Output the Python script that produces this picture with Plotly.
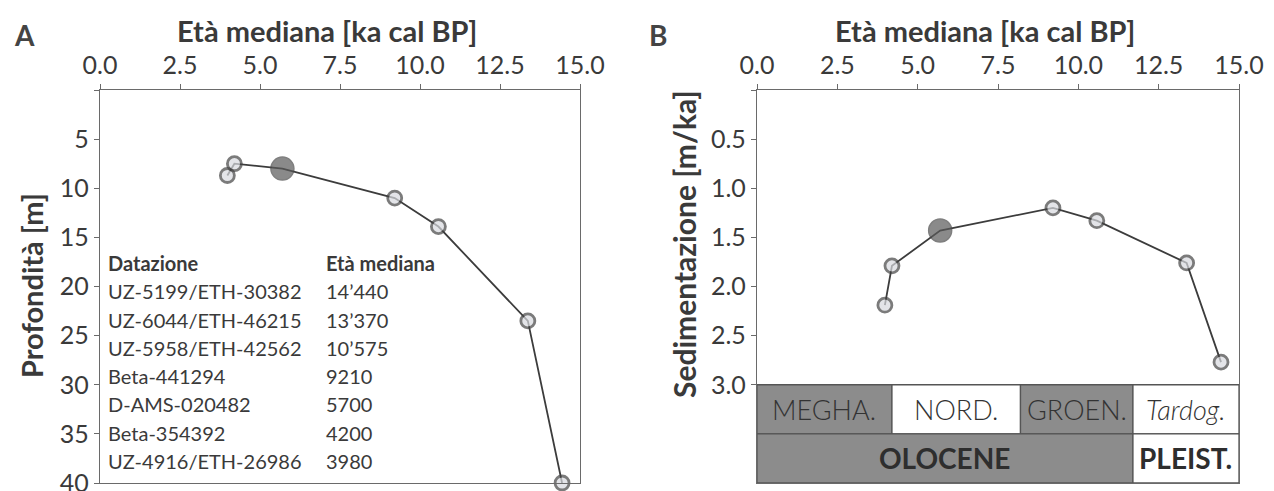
import plotly.graph_objects as go

# ---------------- data ----------------
ages_ka = [3.98, 4.20, 5.70, 9.21, 10.575, 13.37, 14.44]
depth_m = [8.7, 7.5, 8.0, 11.0, 13.9, 23.5, 40.0]
sed_rate = [2.19, 1.79, 1.43, 1.20, 1.33, 1.76, 2.77]
highlight = [False, False, True, False, False, False, False]

dating_ids = ["UZ-5199/ETH-30382", "UZ-6044/ETH-46215", "UZ-5958/ETH-42562",
              "Beta-441294", "D-AMS-020482", "Beta-354392", "UZ-4916/ETH-26986"]
dating_ages = ["14’440", "13’370", "10’575", "9210", "5700", "4200", "3980"]

x_ticks = [0.0, 2.5, 5.0, 7.5, 10.0, 12.5, 15.0]
depth_ticks = [0, 5, 10, 15, 20, 25, 30, 35, 40]
rate_ticks = [0.0, 0.5, 1.0, 1.5, 2.0, 2.5, 3.0]

periods = ["MEGHA.", "NORD.", "GROEN.", "Tardog."]
period_bounds = [0.0, 4.2, 8.2, 11.7, 15.0]
period_gray = [True, False, True, False]
epochs = ["OLOCENE", "PLEIST."]
epoch_bounds = [0.0, 11.7, 15.0]
epoch_gray = [True, False]

# ---------------- style ----------------
FONT = "Lato"
TXT = "#3a3a3a"
AX = "#6a6a6a"
LINE = "#3c3c3c"
LIGHT = "#d8dadf"
DARK = "#5a5a5a"
BAND = "#8c8c8c"
W, H = 1274, 491
OFF = 8  # default page margin of the html body


def px_x(p):
    return (p - OFF) / W


def px_y(p):
    return 1 - (p - OFF) / H


mcolors = [DARK if h else LIGHT for h in highlight]
msizes = [23 if h else 14 for h in highlight]
mlw = [1.5 if h else 2.8 for h in highlight]
mline = ["#4a4a4a" if h else "#444444" for h in highlight]

fig = go.Figure()

for xa, ya, yv in [("x", "y", depth_m), ("x2", "y2", sed_rate)]:
    fig.add_trace(go.Scatter(
        x=ages_ka, y=yv, xaxis=xa, yaxis=ya, mode="lines",
        line=dict(color=LINE, width=1.8), hoverinfo="skip", showlegend=False,
        cliponaxis=False))
    fig.add_trace(go.Scatter(
        x=ages_ka, y=yv, xaxis=xa, yaxis=ya, mode="markers",
        marker=dict(color=mcolors, size=msizes,
                    line=dict(color=mline, width=mlw)),
        showlegend=False, cliponaxis=False))

axis_common = dict(
    showline=True, linecolor=AX, linewidth=1.3, mirror=True,
    ticks="outside", ticklen=5, tickcolor=AX, tickwidth=1.2,
    showgrid=False, zeroline=False, automargin=False,
    tickfont=dict(family=FONT, size=25, color=TXT),
)
common_x = dict(range=[0, 15], side="top", tickvals=x_ticks,
                ticktext=[f"{v:.1f}" for v in x_ticks], **axis_common)

fig.update_layout(
    template="none",
    width=W, height=H, autosize=False,
    margin=dict(l=0, r=0, t=0, b=0, pad=0),
    paper_bgcolor="white", plot_bgcolor="white",
    xaxis=dict(domain=[px_x(100), px_x(580)], anchor="y", **common_x),
    xaxis2=dict(domain=[px_x(757), px_x(1239)], anchor="y2", **common_x),
    yaxis=dict(
        domain=[px_y(483), px_y(90)], anchor="x", range=[40, 0],
        tickvals=depth_ticks,
        ticktext=["" if v == 0 else str(v) for v in depth_ticks],
        **axis_common),
    yaxis2=dict(
        domain=[px_y(483), px_y(90)], anchor="x2", range=[4.0, 0],
        tickvals=rate_ticks,
        ticktext=["" if v == 0 else f"{v:.1f}" for v in rate_ticks],
        **axis_common),
)

# ---------------- chronology bands (panel B) ----------------
shapes = []
annots = []
for i, name in enumerate(periods):
    x0, x1 = period_bounds[i], period_bounds[i + 1]
    shapes.append(dict(type="rect", xref="x2", yref="y2", x0=x0, x1=x1, y0=3.0, y1=3.5,
                       fillcolor=BAND if period_gray[i] else "white",
                       line=dict(color="#555555", width=1.3), layer="below"))
    txt = f"<i>{name}</i>" if name == "Tardog." else name
    annots.append(dict(xref="x2", yref="y2", x=(x0 + x1) / 2, y=3.25, text=txt,
                       showarrow=False,
                       font=dict(family=FONT, size=27, color="#333333", weight=300)))
for i, name in enumerate(epochs):
    x0, x1 = epoch_bounds[i], epoch_bounds[i + 1]
    shapes.append(dict(type="rect", xref="x2", yref="y2", x0=x0, x1=x1, y0=3.5, y1=4.0,
                       fillcolor=BAND if epoch_gray[i] else "white",
                       line=dict(color="#555555", width=1.3), layer="below"))
    annots.append(dict(xref="x2", yref="y2", x=(x0 + x1) / 2, y=3.75,
                       text=f"<b>{name}</b>", showarrow=False,
                       font=dict(family=FONT, size=28, color="#2e2e2e")))

# ---------------- table (panel A) ----------------
row_depth0 = 17.6
row_step = 2.88
TFS = 20
annots.append(dict(xref="x", yref="y", x=0.2, y=row_depth0, text="<b>Datazione</b>",
                   xanchor="left", showarrow=False, font=dict(family=FONT, size=TFS, color=TXT)))
annots.append(dict(xref="x", yref="y", x=7.0, y=row_depth0, text="<b>Età mediana</b>",
                   xanchor="left", showarrow=False, font=dict(family=FONT, size=TFS, color=TXT)))
for i, (did, dage) in enumerate(zip(dating_ids, dating_ages)):
    yy = row_depth0 + row_step * (i + 1)
    annots.append(dict(xref="x", yref="y", x=0.2, y=yy, text=did, xanchor="left",
                       showarrow=False, font=dict(family=FONT, size=TFS, color=TXT)))
    annots.append(dict(xref="x", yref="y", x=7.0, y=yy, text=dage, xanchor="left",
                       showarrow=False, font=dict(family=FONT, size=TFS, color=TXT)))

# ---------------- titles ----------------
for lab, cx_lab, cx_title in [("A", 24, 327), ("B", 658, 985)]:
    annots.append(dict(xref="paper", yref="paper", x=px_x(cx_lab), y=px_y(35), text=f"<b>{lab}</b>",
                       showarrow=False, xanchor="center", yanchor="middle",
                       font=dict(family=FONT, size=28, color="#444444")))
    annots.append(dict(xref="paper", yref="paper", x=px_x(cx_title), y=px_y(31),
                       text="<b>Età mediana [ka cal BP]</b>", showarrow=False,
                       xanchor="center", yanchor="middle",
                       font=dict(family=FONT, size=29, color=TXT)))
annots.append(dict(xref="paper", yref="paper", x=px_x(31), y=px_y(286),
                   text="<b>Profondità [m]</b>", textangle=-90, showarrow=False,
                   xanchor="center", yanchor="middle",
                   font=dict(family=FONT, size=29, color=TXT)))
annots.append(dict(xref="paper", yref="paper", x=px_x(684), y=px_y(244),
                   text="<b>Sedimentazione [m/ka]</b>", textangle=-90, showarrow=False,
                   xanchor="center", yanchor="middle",
                   font=dict(family=FONT, size=30, color=TXT)))

fig.update_layout(shapes=shapes, annotations=annots)
fig.write_html("out.html")
